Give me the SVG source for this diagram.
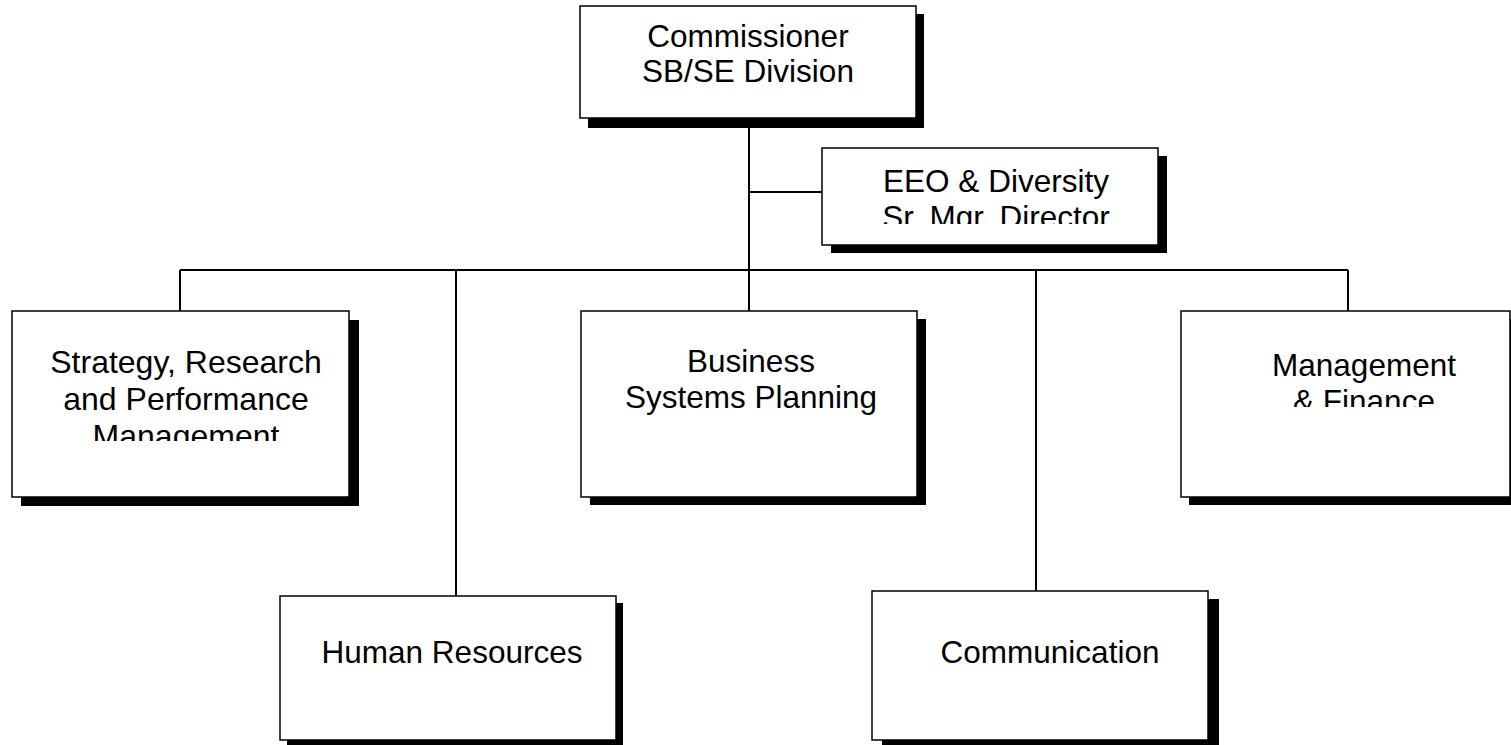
<svg xmlns="http://www.w3.org/2000/svg" width="1511" height="745" viewBox="0 0 1511 745">
<style>
.box{fill:#fff;stroke:#000;stroke-width:1.5}
.sh{fill:#000}
.t{font-family:"Liberation Sans",Arial,sans-serif;font-size:31.5px;fill:#000;text-anchor:middle}
.c{fill:none;stroke:#000;stroke-width:2}
</style>
<defs>
<clipPath id="clipEEO"><rect x="822" y="148" width="336" height="76"/></clipPath>
<clipPath id="clipSRP"><rect x="12" y="311" width="337" height="130"/></clipPath>
<clipPath id="clipMF"><rect x="1181" y="311" width="329" height="96"/></clipPath>
</defs>
<rect width="1511" height="745" fill="#fff"/>
<g id="connectors">
<path class="c" d="M749 118V270"/>
<path class="c" d="M749 192H822"/>
<path class="c" d="M180 270H1348"/>
<path class="c" d="M180 270V311"/>
<path class="c" d="M456 270V596"/>
<path class="c" d="M749 270V311"/>
<path class="c" d="M1036 270V591"/>
<path class="c" d="M1348 270V311"/>
</g>
<g id="commissioner">
<rect class="sh" x="588" y="14" width="336" height="114"/>
<rect class="box" x="580" y="6" width="336" height="112"/>
<text class="t" x="748" y="47">Commissioner</text>
<text class="t" x="748" y="82">SB/SE Division</text>
</g>
<g id="eeo">
<rect class="sh" x="831" y="156" width="336" height="97"/>
<rect class="box" x="822" y="148" width="336" height="97"/>
<g clip-path="url(#clipEEO)">
<text class="t" x="996" y="192">EEO &amp; Diversity</text>
<text class="t" x="996" y="228">Sr. Mgr. Director</text>
</g>
</g>
<g id="strategy">
<rect class="sh" x="21" y="320" width="338" height="186"/>
<rect class="box" x="12" y="311" width="337" height="186"/>
<g clip-path="url(#clipSRP)" style="font-size:32px">
<text class="t" x="186" y="373" style="font-size:32px">Strategy, Research</text>
<text class="t" x="186" y="410" style="font-size:32px">and Performance</text>
<text class="t" x="186" y="447" style="font-size:32px">Management</text>
</g>
</g>
<g id="business">
<rect class="sh" x="590" y="319" width="336" height="186"/>
<rect class="box" x="581" y="311" width="336" height="186"/>
<text class="t" x="751" y="372">Business</text>
<text class="t" x="751" y="408">Systems Planning</text>
</g>
<g id="management">
<rect class="sh" x="1189" y="319" width="330" height="186"/>
<rect class="box" x="1181" y="311" width="329" height="186"/>
<g clip-path="url(#clipMF)">
<text class="t" x="1364" y="376">Management</text>
<text class="t" x="1364" y="412">&amp; Finance</text>
</g>
</g>
<g id="hr">
<rect class="sh" x="287" y="603" width="336" height="142"/>
<rect class="box" x="280" y="596" width="336" height="144"/>
<text class="t" x="452" y="663">Human Resources</text>
</g>
<g id="communication">
<rect class="sh" x="882" y="599" width="337" height="146"/>
<rect class="box" x="872" y="591" width="336" height="149"/>
<text class="t" x="1050" y="663">Communication</text>
</g>
</svg>
